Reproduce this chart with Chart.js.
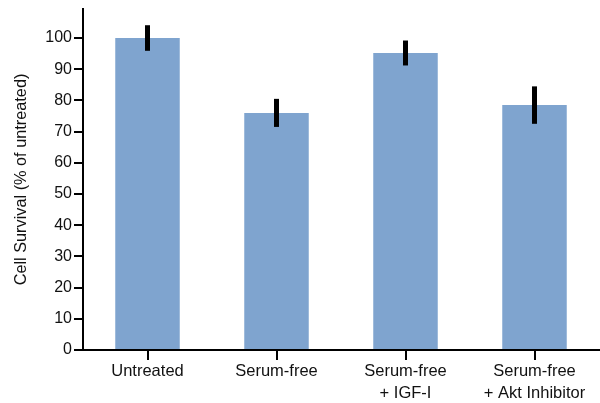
<!DOCTYPE html>
<html>
<head>
<meta charset="utf-8">
<script src="https://cdn.jsdelivr.net/npm/chart.js@4"></script>
<style>
  html, body { margin: 0; padding: 0; background: #fff; }
  #wrap { width: 600px; height: 403px; }
</style>
</head>
<body>
<div id="wrap"><canvas id="bar-chart"></canvas></div>
<script>
const categories = [["Untreated"], ["Serum-free"], ["Serum-free", "+ IGF-I"], ["Serum-free", "+ Akt Inhibitor"]];
const survival = [100, 76, 95.2, 78.5];
const errors = [4.1, 4.5, 4, 6];

// error bars drawn through the y scale
const errorBars = {
    id: "errorBars",
    afterDatasetsDraw(chart) {
        const ctx = chart.ctx;
        const yScale = chart.scales.y;
        const meta = chart.getDatasetMeta(0);
        ctx.save();
        ctx.strokeStyle = "#000";
        ctx.lineWidth = 5;
        ctx.lineCap = "butt";
        meta.data.forEach((bar, i) => {
            const top = yScale.getPixelForValue(survival[i] + errors[i]);
            const bottom = yScale.getPixelForValue(survival[i] - errors[i]);
            ctx.beginPath();
            ctx.moveTo(bar.x, top);
            ctx.lineTo(bar.x, bottom);
            ctx.stroke();
        });
        ctx.restore();
    }
};

const ctx = document.getElementById("bar-chart");

let chartGraph = new Chart(ctx, {
    type: "bar",
    data: {
        labels: categories,
        datasets: [{
            data: survival,
            backgroundColor: "rgb(127,164,207)",
            borderWidth: 0,
            barPercentage: 0.5,
            categoryPercentage: 1,
        }]
    },
    options: {
        responsive: true,
        maintainAspectRatio: false,
        animation: false,
        layout: { padding: { top: 9, right: 1, left: 0, bottom: 0 } },
        plugins: {
            legend: { display: false },
            tooltip: { enabled: false },
        },
        scales: {
            x: {
                afterFit: (scale) => { scale.height = 53; },
                border: { display: true, color: "#000", width: 2 },
                grid: {
                    display: true,
                    offset: false,
                    drawOnChartArea: false,
                    drawTicks: true,
                    tickLength: 10,
                    color: "#000",
                    lineWidth: 2,
                },
                ticks: {
                    color: "#111",
                    padding: 0,
                    maxRotation: 0,
                    autoSkip: false,
                    font: { family: "'Liberation Sans', Arial, sans-serif", size: 16.5, lineHeight: 1.35 },
                },
            },
            y: {
                min: 0,
                max: 109.3,
                afterFit: (scale) => {
                    scale.width = 83;
                    scale.paddingTop = 0;
                    scale.paddingBottom = 0;
                },
                afterBuildTicks: (scale) => {
                    scale.ticks = scale.ticks.filter(t => t.value % 10 === 0);
                },
                border: { display: true, color: "#000", width: 2 },
                grid: {
                    display: true,
                    drawOnChartArea: false,
                    drawTicks: true,
                    tickLength: 9,
                    color: "#000",
                    lineWidth: 2,
                },
                ticks: {
                    stepSize: 10,
                    color: "#111",
                    padding: 2,
                    font: { family: "'Liberation Sans', Arial, sans-serif", size: 16 },
                },
                title: {
                    display: true,
                    text: "Cell Survival (% of untreated)",
                    color: "#111",
                    padding: { top: 12, bottom: 0 },
                    font: { family: "'Liberation Sans', Arial, sans-serif", size: 16.3 },
                },
            },
        },
    },
    plugins: [errorBars],
});
</script>
</body>
</html>
